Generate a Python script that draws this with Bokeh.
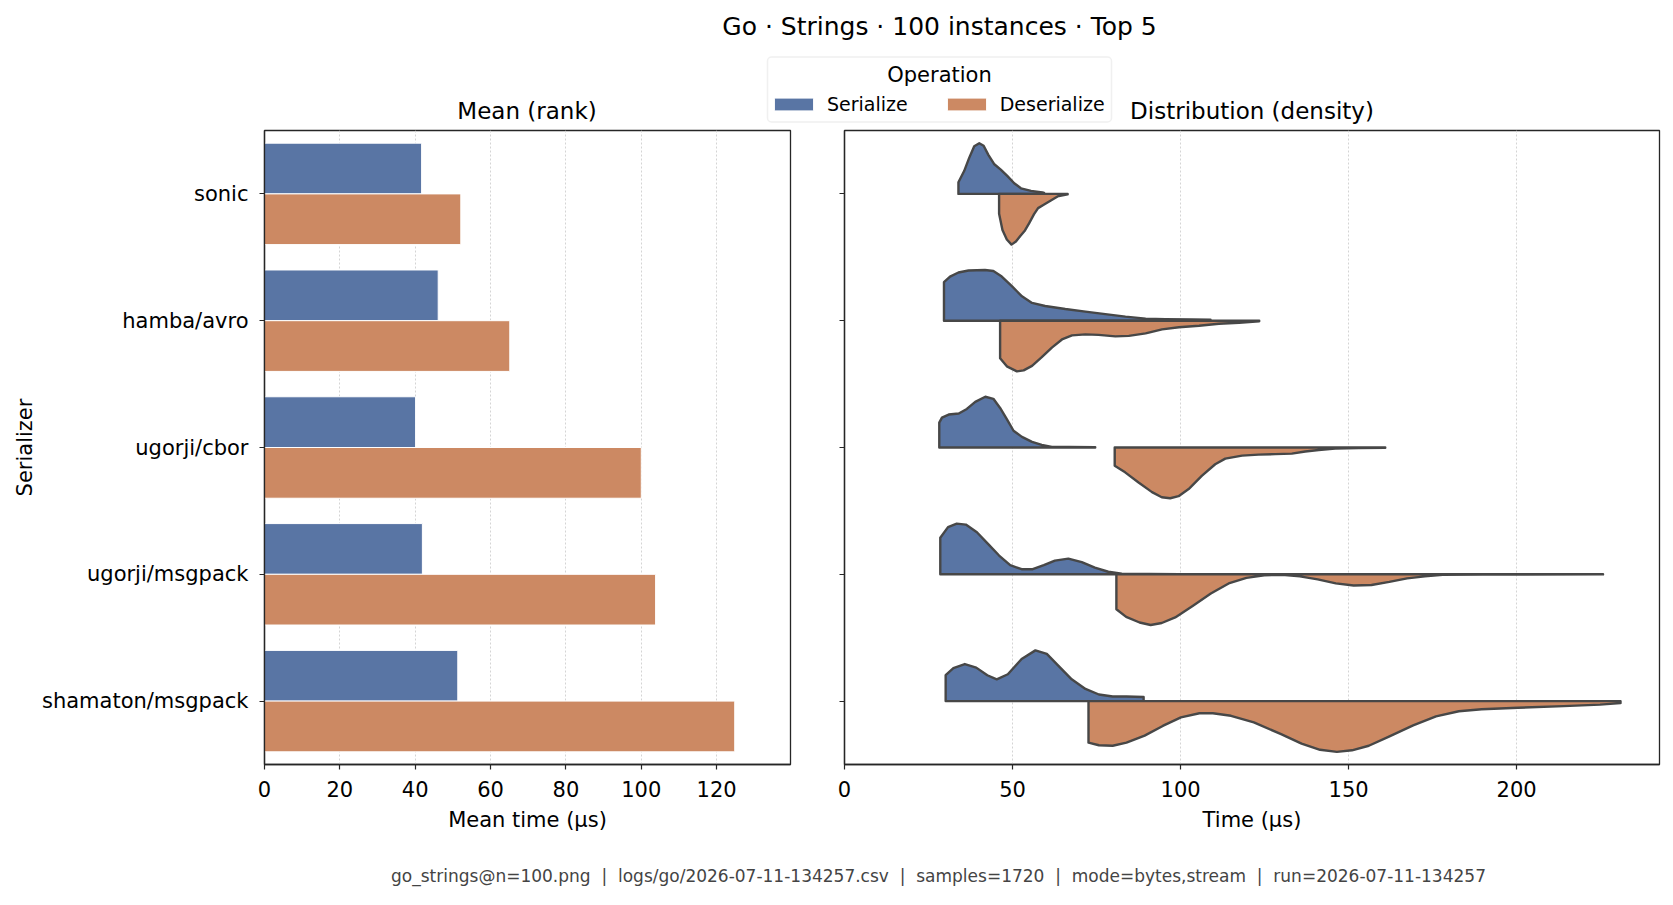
from bokeh.plotting import figure
from bokeh.layouts import column, row
from bokeh.models import (Range1d, FactorRange, Label, BoxAnnotation, Legend,
                          LegendItem, ColumnDataSource)
from bokeh.transform import dodge
from bokeh.embed import file_html
from bokeh.resources import INLINE

# ---------------- data ----------------
serializers = ["sonic", "hamba/avro", "ugorji/cbor", "ugorji/msgpack", "shamaton/msgpack"]
operations = ["Serialize", "Deserialize"]
mean_serialize = [41.7, 46.1, 40.1, 41.9, 51.3]
mean_deserialize = [52.1, 65.1, 100.0, 103.8, 124.8]
mean_ticks = [0, 20, 40, 60, 80, 100, 120]
time_ticks = [0, 50, 100, 150, 200]

# density outlines (time in µs, relative density 0..1)
sonic_ser_x = [33.9, 35.6, 37.1, 38.6, 40.1, 41.4, 42.8, 44.5, 46.5, 48.5, 50.5, 52.5, 55.5, 58.9, 59.4]
sonic_ser_d = [0.23, 0.45, 0.71, 0.94, 1.0, 0.95, 0.77, 0.59, 0.48, 0.35, 0.21, 0.11, 0.06, 0.03, 0.02]
sonic_des_x = [46.0, 47.0, 48.3, 49.7, 51.0, 52.3, 53.7, 55.0, 56.4, 57.6, 59.4, 61.4, 63.4, 66.4]
sonic_des_d = [0.39, 0.71, 0.90, 1.0, 0.94, 0.83, 0.72, 0.57, 0.40, 0.28, 0.21, 0.13, 0.05, 0.01]

hamba_ser_x = [29.6, 31.4, 33.9, 36.9, 41.8, 44.3, 46.8, 49.8, 52.8, 55.8, 59.7, 65.7, 71.7, 77.6, 83.6, 89.6, 95.5, 103.5, 108.9]
hamba_ser_d = [0.76, 0.87, 0.95, 0.99, 1.0, 0.98, 0.87, 0.68, 0.48, 0.35, 0.29, 0.23, 0.18, 0.13, 0.08, 0.04, 0.03, 0.025, 0.02]
hamba_des_x = [46.3, 48.3, 51.3, 53.3, 55.8, 58.7, 61.7, 64.7, 67.7, 71.7, 75.6, 80.6, 84.6, 89.6, 94.5, 99.5, 105.5, 111.4, 117.4, 123.4]
hamba_des_d = [0.74, 0.90, 1.0, 0.98, 0.89, 0.72, 0.53, 0.37, 0.29, 0.27, 0.28, 0.31, 0.30, 0.25, 0.17, 0.13, 0.10, 0.06, 0.04, 0.01]

cbor_ser_x = [28.2, 29.0, 31.0, 34.0, 36.4, 38.9, 41.9, 44.3, 46.3, 48.3, 50.3, 52.8, 55.8, 58.7, 61.7, 66.7, 74.6]
cbor_ser_d = [0.49, 0.59, 0.65, 0.67, 0.76, 0.90, 1.0, 0.96, 0.78, 0.56, 0.33, 0.21, 0.11, 0.05, 0.01, 0.01, 0.005]
cbor_des_x = [80.4, 83.5, 87.5, 91.5, 94.4, 96.9, 99.4, 102.4, 106.3, 110.3, 113.3, 118.3, 123.2, 128.2, 133.1, 137.1, 141.1, 146.0, 153.0, 160.9]
cbor_des_d = [0.36, 0.49, 0.69, 0.88, 0.98, 1.0, 0.96, 0.82, 0.56, 0.33, 0.22, 0.16, 0.14, 0.13, 0.12, 0.08, 0.05, 0.02, 0.01, 0.005]

msgpack_ser_x = [28.5, 30.8, 33.4, 36.1, 39.4, 42.7, 46.0, 49.3, 52.7, 56.0, 59.3, 62.6, 66.6, 70.6, 74.5, 78.5, 82.5, 90.5, 99.7]
msgpack_ser_d = [0.72, 0.93, 1.0, 0.98, 0.83, 0.60, 0.37, 0.18, 0.10, 0.10, 0.18, 0.27, 0.31, 0.24, 0.13, 0.05, 0.01, 0.005, 0.003]
msgpack_des_x = [80.9, 83.8, 87.8, 91.1, 94.4, 98.4, 103.7, 109.0, 114.3, 119.6, 124.9, 130.2, 135.5, 140.8, 146.2, 151.5, 156.8, 162.1, 167.4, 172.7, 178.0, 189.9, 225.7]
msgpack_des_d = [0.69, 0.84, 0.95, 1.0, 0.96, 0.85, 0.62, 0.38, 0.18, 0.07, 0.02, 0.01, 0.04, 0.10, 0.18, 0.22, 0.21, 0.15, 0.08, 0.04, 0.01, 0.005, 0.002]

shamaton_ser_x = [30.1, 32.4, 35.8, 39.2, 42.5, 45.3, 48.6, 52.7, 56.8, 60.2, 63.6, 67.6, 71.7, 75.7, 79.8, 83.9, 89.0]
shamaton_ser_d = [0.51, 0.65, 0.73, 0.66, 0.51, 0.43, 0.53, 0.83, 1.0, 0.93, 0.70, 0.43, 0.24, 0.13, 0.09, 0.09, 0.08]
shamaton_des_x = [72.6, 75.7, 79.8, 83.9, 89.3, 94.7, 100.1, 105.6, 109.6, 115.0, 121.8, 129.9, 136.0, 141.5, 146.5, 151.0, 156.0, 162.0, 169.2, 176.0, 182.8, 189.6, 200.4, 214.0, 224.8, 230.9]
shamaton_des_d = [0.82, 0.87, 0.88, 0.82, 0.68, 0.49, 0.32, 0.24, 0.24, 0.29, 0.42, 0.65, 0.84, 0.96, 1.0, 0.97, 0.88, 0.70, 0.48, 0.30, 0.20, 0.16, 0.13, 0.10, 0.07, 0.04]

title_text = "Go · Strings · 100 instances · Top 5"
SEP = "\u00a0\u00a0|\u00a0\u00a0"
footer_parts = ["go_strings@n=100.png", "logs/go/2026-07-11-134257.csv", "samples=1720",
                "mode=bytes,stream", "run=2026-07-11-134257"]
footer_text = SEP.join(footer_parts)

# ---------------- style ----------------
FONT = "DejaVu Sans"
SER_COLOR = "#5975a4"
DES_COLOR = "#cc8963"
EDGE = "#474747"
GRID = "#d4d4d4"
W, H = 1673, 905
TOP_H, BOT_H = 124, 55
MID_H = H - TOP_H - BOT_H

cats_bottom_up = list(reversed(serializers))


def style_axes(p):
    p.outline_line_color = "#262626"
    p.outline_line_width = 1.3
    p.background_fill_color = "white"
    p.border_fill_color = "white"
    for ax in (p.xaxis, p.yaxis):
        ax.axis_line_color = "#262626"
        ax.axis_line_width = 1.3
        ax.major_tick_line_color = "#262626"
        ax.major_tick_line_width = 1.2
        ax.major_tick_in = 0
        ax.major_tick_out = 5
        ax.minor_tick_line_color = None
        ax.major_label_text_font = FONT
        ax.major_label_text_font_size = "21px"
        ax.major_label_text_color = "black"
        ax.axis_label_text_font = FONT
        ax.axis_label_text_font_size = "21px"
        ax.axis_label_text_font_style = "normal"
        ax.axis_label_text_color = "black"
    p.xaxis.major_label_standoff = 11
    p.yaxis.major_label_standoff = 11
    p.xaxis.axis_label_standoff = 8
    p.xgrid.grid_line_color = GRID
    p.xgrid.grid_line_dash = "2 2"
    p.xgrid.grid_line_width = 1
    p.ygrid.visible = False


# ---------------- left: mean bars ----------------
left = figure(frame_width=526, frame_height=634, min_border_left=264, min_border_right=27,
              min_border_top=6, min_border_bottom=MID_H - 6 - 634,
              y_range=FactorRange(factors=cats_bottom_up), x_range=Range1d(0, 139.6),
              output_backend="svg", toolbar_location=None)
src = ColumnDataSource(dict(cat=serializers, ser=mean_serialize, des=mean_deserialize))
left.hbar(y=dodge("cat", 0.2, range=left.y_range), left=0, right="ser", height=0.4,
          fill_color=SER_COLOR, line_color="white", line_width=1, source=src)
left.hbar(y=dodge("cat", -0.2, range=left.y_range), left=0, right="des", height=0.4,
          fill_color=DES_COLOR, line_color="white", line_width=1, source=src)
style_axes(left)
left.xaxis.ticker = mean_ticks
left.xaxis.axis_label = "Mean time (µs)"
left.yaxis.axis_label = "Serializer"
left.yaxis.axis_label_standoff = 2

# ---------------- right: half violins ----------------
right = figure(frame_width=815, frame_height=634, min_border_left=27, min_border_right=14,
               min_border_top=6, min_border_bottom=MID_H - 6 - 634,
               y_range=FactorRange(factors=cats_bottom_up), x_range=Range1d(0, 242.5),
               output_backend="svg", toolbar_location=None)
style_axes(right)
right.xaxis.ticker = time_ticks
right.xaxis.axis_label = "Time (µs)"
right.yaxis.major_label_text_font_size = "0px"
right.yaxis.major_label_text_color = None
right.yaxis.major_label_standoff = 0

profiles = {
    "sonic": (sonic_ser_x, sonic_ser_d, sonic_des_x, sonic_des_d),
    "hamba/avro": (hamba_ser_x, hamba_ser_d, hamba_des_x, hamba_des_d),
    "ugorji/cbor": (cbor_ser_x, cbor_ser_d, cbor_des_x, cbor_des_d),
    "ugorji/msgpack": (msgpack_ser_x, msgpack_ser_d, msgpack_des_x, msgpack_des_d),
    "shamaton/msgpack": (shamaton_ser_x, shamaton_ser_d, shamaton_des_x, shamaton_des_d),
}
HALF = 0.4


def half_shape(xs, ds, base, sign):
    px = [xs[0]] + list(xs) + [xs[-1]]
    py = [base] + [base + sign * HALF * d for d in ds] + [base]
    return px, py


ser_xs, ser_ys, des_xs, des_ys = [], [], [], []
for name in serializers:
    base = cats_bottom_up.index(name) + 0.5
    sx, sd, dx, dd = profiles[name]
    a, b = half_shape(sx, sd, base, 1)
    ser_xs.append(a); ser_ys.append(b)
    a, b = half_shape(dx, dd, base, -1)
    des_xs.append(a); des_ys.append(b)

right.patches(xs=ser_xs, ys=ser_ys, fill_color=SER_COLOR, line_color=EDGE, line_width=2.4,
              line_join="round")
right.patches(xs=des_xs, ys=des_ys, fill_color=DES_COLOR, line_color=EDGE, line_width=2.4,
              line_join="round")

# ---------------- top: title, subplot titles, legend ----------------
top = figure(width=W, height=TOP_H, x_range=Range1d(0, 1), y_range=Range1d(0, 1),
             min_border=0, x_axis_location=None, y_axis_location=None,
             output_backend="svg", toolbar_location=None)
top.outline_line_color = None
top.grid.visible = False
top.add_layout(Label(x=939, y=TOP_H - 25.5, x_units="screen", y_units="screen", text=title_text,
                     text_font=FONT, text_font_size="25px", text_align="center",
                     text_baseline="middle", text_color="black"))
top.add_layout(Label(x=526.5, y=TOP_H - 110, x_units="screen", y_units="screen", text="Mean (rank)",
                     text_font=FONT, text_font_size="23px", text_align="center",
                     text_baseline="middle", text_color="black"))
top.add_layout(Label(x=1251.5, y=TOP_H - 110, x_units="screen", y_units="screen",
                     text="Distribution (density)", text_font=FONT, text_font_size="23px",
                     text_align="center", text_baseline="middle", text_color="black"))
top.add_layout(BoxAnnotation(left=767, right=1111, top=TOP_H - 56.5, bottom=TOP_H - 121.5,
                             left_units="screen", right_units="screen", top_units="screen",
                             bottom_units="screen", fill_color="white", fill_alpha=0.8,
                             line_color="#cccccc", line_width=1.5, border_radius=4))
top.add_layout(Label(x=939, y=TOP_H - 74, x_units="screen", y_units="screen", text="Operation",
                     text_font=FONT, text_font_size="21px", text_align="center",
                     text_baseline="middle", text_color="black"))
# legend proxies: one off-frame bar each, only their swatches are seen
r_ser = top.vbar(x=[-5], top=[-5], bottom=[-6], width=0.1, fill_color=SER_COLOR, line_color="white")
r_des = top.vbar(x=[-5], top=[-5], bottom=[-6], width=0.1, fill_color=DES_COLOR, line_color="white")
legend = Legend(items=[LegendItem(label=operations[0], renderers=[r_ser]),
                       LegendItem(label=operations[1], renderers=[r_des])],
                orientation="horizontal", location=(769, 9), glyph_width=49, glyph_height=16,
                label_standoff=9, spacing=34, padding=0, margin=0,
                border_line_alpha=0, background_fill_alpha=0,
                label_text_font=FONT, label_text_font_size="19px", label_text_color="black")
top.add_layout(legend)

# ---------------- bottom: footer ----------------
bottom = figure(width=W, height=BOT_H, x_range=Range1d(0, 1), y_range=Range1d(0, 1),
                min_border=0, x_axis_location=None, y_axis_location=None,
                output_backend="svg", toolbar_location=None)
bottom.outline_line_color = None
bottom.grid.visible = False
bottom.add_layout(Label(x=938, y=BOT_H - 25, x_units="screen", y_units="screen", text=footer_text,
                        text_font=FONT, text_font_size="17px", text_align="center",
                        text_baseline="middle", text_color="#444444"))

layout = column(top, row(left, right), bottom)
open("out.html", "w").write(file_html(layout, INLINE))
